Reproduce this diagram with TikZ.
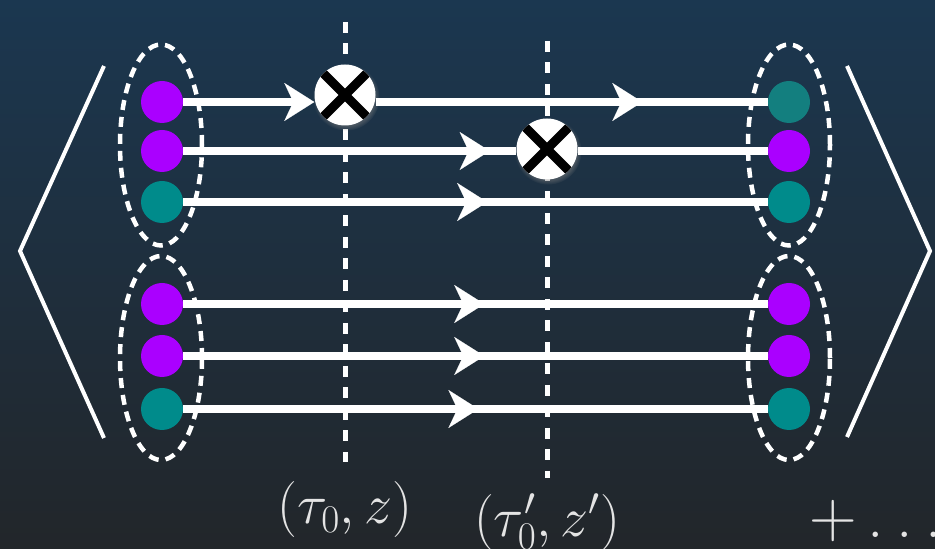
\documentclass[tikz,border=0pt]{standalone}
\usepackage{fix-cm}
\usetikzlibrary{arrows.meta,shapes.geometric,decorations.markings,shadows}
\definecolor{bgtop}{RGB}{27,55,80}
\definecolor{bgbot}{RGB}{34,38,42}
\definecolor{quarkpurple}{RGB}{170,0,255}
\definecolor{quarkteal}{RGB}{0,139,139}
\definecolor{quarkdark}{RGB}{19,127,127}
\definecolor{labelgray}{RGB}{228,228,228}
\tikzset{
  quark/.style={circle,minimum size=42pt,inner sep=0pt,fill=#1},
  quarkbag/.style={ellipse,draw=white,line width=4.5pt,dash pattern=on 10pt off 7pt,
    minimum width=82pt,minimum height=#1,inner sep=0pt},
  wire/.style={white,line width=8pt},
  flowtip/.tip={Stealth[length=30pt,width=38pt,inset=9pt,line width=0.1pt]},
  midarrow/.style={postaction={decorate},
    decoration={markings,mark=at position #1 with {\arrow{flowtip}}}},
  cutline/.style={white,line width=5pt,dash pattern=on 11pt off 10.5pt},
  bracketline/.style={white,line width=4pt},
  crossvertex/.style={circle,fill=white,minimum size=61pt,inner sep=0pt,
    circular drop shadow={shadow xshift=1pt,shadow yshift=-2pt,opacity=0.45},
    path picture={\draw[black,line width=9pt]
      (path picture bounding box.north west) -- (path picture bounding box.south east)
      (path picture bounding box.south west) -- (path picture bounding box.north east);}},
  slicelabel/.style={font=\fontsize{56}{62}\selectfont,text=labelgray,inner sep=0pt}
}
\begin{document}
\begin{tikzpicture}[x=1pt,y=1pt]
\useasboundingbox (0,0) rectangle (935,549);
\shade[top color=bgtop,bottom color=bgbot] (0,0) rectangle (935,549);

% time slices
\coordinate (cut1top) at (345,527);
\coordinate (cut1bot) at (345,87);
\coordinate (cut2top) at (547,508);
\coordinate (cut2bot) at (547,71);
\draw[cutline] (cut1top) -- (cut1bot);
\draw[cutline] (cut2top) -- (cut2bot);

% hadrons
\node[quarkbag=201pt] (bagL1) at (161,404) {};
\node[quarkbag=204pt] (bagL2) at (161,191) {};
\node[quarkbag=201pt] (bagR1) at (789,404) {};
\node[quarkbag=204pt] (bagR2) at (789,191) {};

% quarks
\node[quark=quarkpurple] (l1) at (162,447) {};
\node[quark=quarkpurple] (l2) at (162,398) {};
\node[quark=quarkteal]   (l3) at (162,347) {};
\node[quark=quarkpurple] (l4) at (162,245) {};
\node[quark=quarkpurple] (l5) at (162,193) {};
\node[quark=quarkteal]   (l6) at (162,140) {};
\node[quark=quarkdark]   (r1) at (789,447) {};
\node[quark=quarkpurple] (r2) at (789,398) {};
\node[quark=quarkteal]   (r3) at (789,347) {};
\node[quark=quarkpurple] (r4) at (789,245) {};
\node[quark=quarkpurple] (r5) at (789,193) {};
\node[quark=quarkteal]   (r6) at (789,140) {};

% insertions
\node[crossvertex] (x1) at (345,454) {};
\node[crossvertex] (x2) at (547,400) {};

\draw[wire,-{flowtip}] (l1) -- (l1 -| x1.west);
\draw[wire,midarrow=0.68] (x1.east |- r1) -- (r1);
\draw[wire,midarrow=0.92] (l2) -- (l2 -| x2.west);
\draw[wire] (x2.east |- r2) -- (r2);
\draw[wire,midarrow=0.52] (l3) -- (r3);
\draw[wire,midarrow=0.515] (l4) -- (r4);
\draw[wire,midarrow=0.515] (l5) -- (r5);
\draw[wire,midarrow=0.505] (l6) -- (r6);

% state brackets
\coordinate (braL1) at (104,483);
\coordinate (braL2) at (20,298);
\coordinate (braL3) at (104,111);
\coordinate (braR1) at (847,483);
\coordinate (braR2) at (930,298);
\coordinate (braR3) at (847,112);
\draw[bracketline] (braL1) -- (braL2) -- (braL3);
\draw[bracketline] (braR1) -- (braR2) -- (braR3);

\node[slicelabel] (lab1) at (345,39) {$(\tau_0,z)$};
\node[slicelabel] (lab2) at (547,27) {$(\tau'_0,z')$};
\node[font=\fontsize{66}{72}\selectfont,text=labelgray,anchor=base west,inner sep=0pt]
  (more) at (809,11) {$+$\hspace{10.8pt}.\hspace{12.7pt}.\hspace{12.7pt}.};
\end{tikzpicture}
\end{document}
